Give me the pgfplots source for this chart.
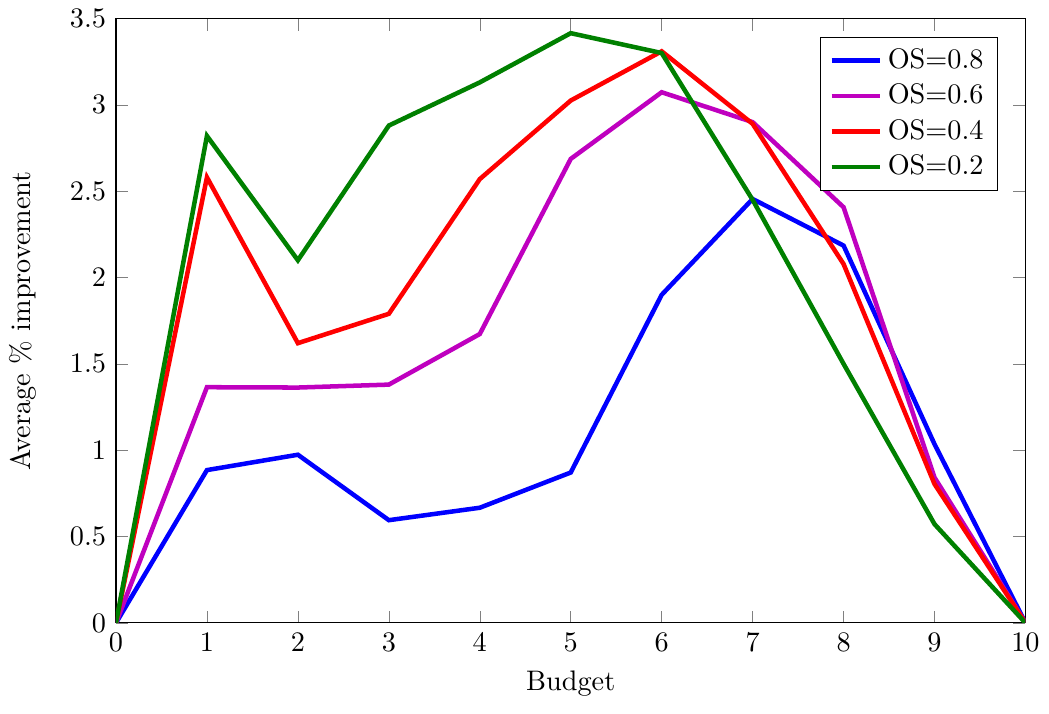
\documentclass[border=0pt]{standalone}
\usepackage{pgfplots}
\pgfplotsset{compat=1.18}
\definecolor{osviolet}{rgb}{0.75,0,0.75}
\begin{document}
\begin{tikzpicture}
\begin{axis}[
  scale only axis,
  width=322pt, height=214pt,
  xmin=0, xmax=10, ymin=0, ymax=3.5,
  xtick={0,...,10},
  ytick={0,0.5,...,3.5},
  xlabel={Budget},
  ylabel={Average \% improvement},
  ylabel shift=5pt,
  xlabel style={text depth=5pt},
  legend pos=north east,
  legend cell align=left,
]
\addplot[blue, ultra thick] coordinates {(0,0) (1,0.885) (2,0.974) (3,0.595) (4,0.667) (5,0.871) (6,1.90) (7,2.455) (8,2.185) (9,1.035) (10,0)};
\addlegendentry{OS=0.8}
\addplot[osviolet, ultra thick] coordinates {(0,0) (1,1.365) (2,1.363) (3,1.38) (4,1.673) (5,2.687) (6,3.073) (7,2.90) (8,2.407) (9,0.842) (10,0)};
\addlegendentry{OS=0.6}
\addplot[red, ultra thick] coordinates {(0,0) (1,2.58) (2,1.62) (3,1.79) (4,2.57) (5,3.025) (6,3.31) (7,2.89) (8,2.078) (9,0.804) (10,0)};
\addlegendentry{OS=0.4}
\addplot[green!50!black, ultra thick] coordinates {(0,0) (1,2.82) (2,2.10) (3,2.88) (4,3.13) (5,3.415) (6,3.30) (7,2.45) (8,1.50) (9,0.572) (10,0)};
\addlegendentry{OS=0.2}
\end{axis}
\end{tikzpicture}
\end{document}
